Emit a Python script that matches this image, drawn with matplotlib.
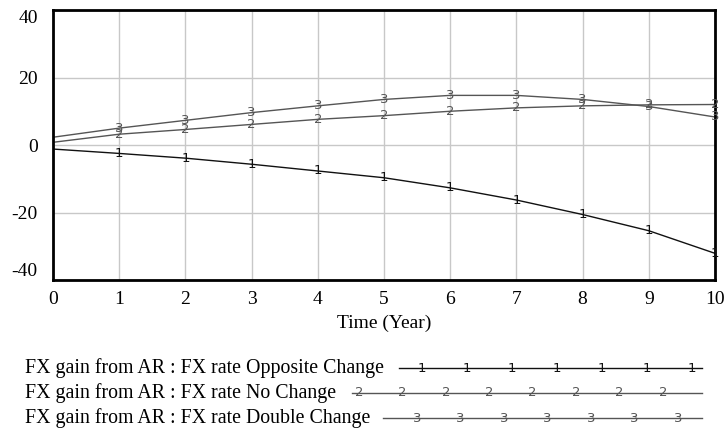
import matplotlib
matplotlib.use("Agg")
import matplotlib.pyplot as plt
from matplotlib.lines import Line2D

plt.rcParams['font.family'] = ['Liberation Serif', 'DejaVu Serif']
plt.rcParams['axes.unicode_minus'] = False

years = list(range(0, 11))
opposite = [-1.2, -2.5, -3.9, -5.7, -7.7, -9.7, -12.7, -16.3, -20.6, -25.4, -32.1]
no_change = [0.8, 3.2, 4.6, 6.1, 7.6, 8.7, 10.0, 11.0, 11.6, 11.9, 12.0]
double = [2.3, 5.0, 7.3, 9.6, 11.6, 13.5, 14.7, 14.7, 13.5, 11.4, 8.3]

series = [
    ("FX gain from AR : FX rate Opposite Change", opposite, "#111111", "1"),
    ("FX gain from AR : FX rate No Change", no_change, "#555555", "2"),
    ("FX gain from AR : FX rate Double Change", double, "#555555", "3"),
]

fig = plt.figure(figsize=(7.27, 4.29), dpi=100)
W, H = 727, 429
ax = fig.add_axes([53 / W, 1 - 280 / H, (715 - 53) / W, (280 - 10) / H])

for name, vals, col, tag in series:
    ax.plot(years, vals, color=col, lw=1)
    for x, y in zip(years[1:], vals[1:]):
        ax.text(x, y, tag, color=col, fontsize=9.5, ha='center', va='center',
                family='DejaVu Sans', clip_on=False)

ax.set_xlim(0, 10)
ax.set_ylim(-40, 40)
ax.set_xticks(range(0, 11))
ax.set_yticks([-40, -20, 0, 20, 40])
ax.grid(True, color='#c8c8c8', lw=1)
ax.set_axisbelow(True)
for s in ax.spines.values():
    s.set_linewidth(2)
    s.set_color('black')
ax.tick_params(length=0, labelsize=14)
ax.tick_params(axis='y', pad=11)
ax.tick_params(axis='x', pad=8)
ylabels = ax.get_yticklabels()
ylabels[0].set_va('bottom')
ylabels[-1].set_va('top')
ax.set_xlabel("Time (Year)", fontsize=14, labelpad=5)

# legend below the plot: (row y, line start, first tag, tag step, tag count)
rows = [(368, 399, 422, 45.0, 7),
        (393, 352, 359, 43.4, 8),
        (418, 383, 417, 43.5, 7)]
for (name, vals, col, tag), (ty, x0, t0, step, n) in zip(series, rows):
    yf = 1 - ty / H
    fig.text(25 / W, yf, name, fontsize=14.3, ha='left', va='center')
    fig.add_artist(Line2D([x0 / W, 702 / W], [yf, yf], color=col, lw=1,
                          transform=fig.transFigure))
    for k in range(n):
        fig.text((t0 + k * step) / W, yf, tag, fontsize=9.5, color=col,
                 ha='center', va='center', family='DejaVu Sans')

fig.savefig("out.png", dpi=100)
